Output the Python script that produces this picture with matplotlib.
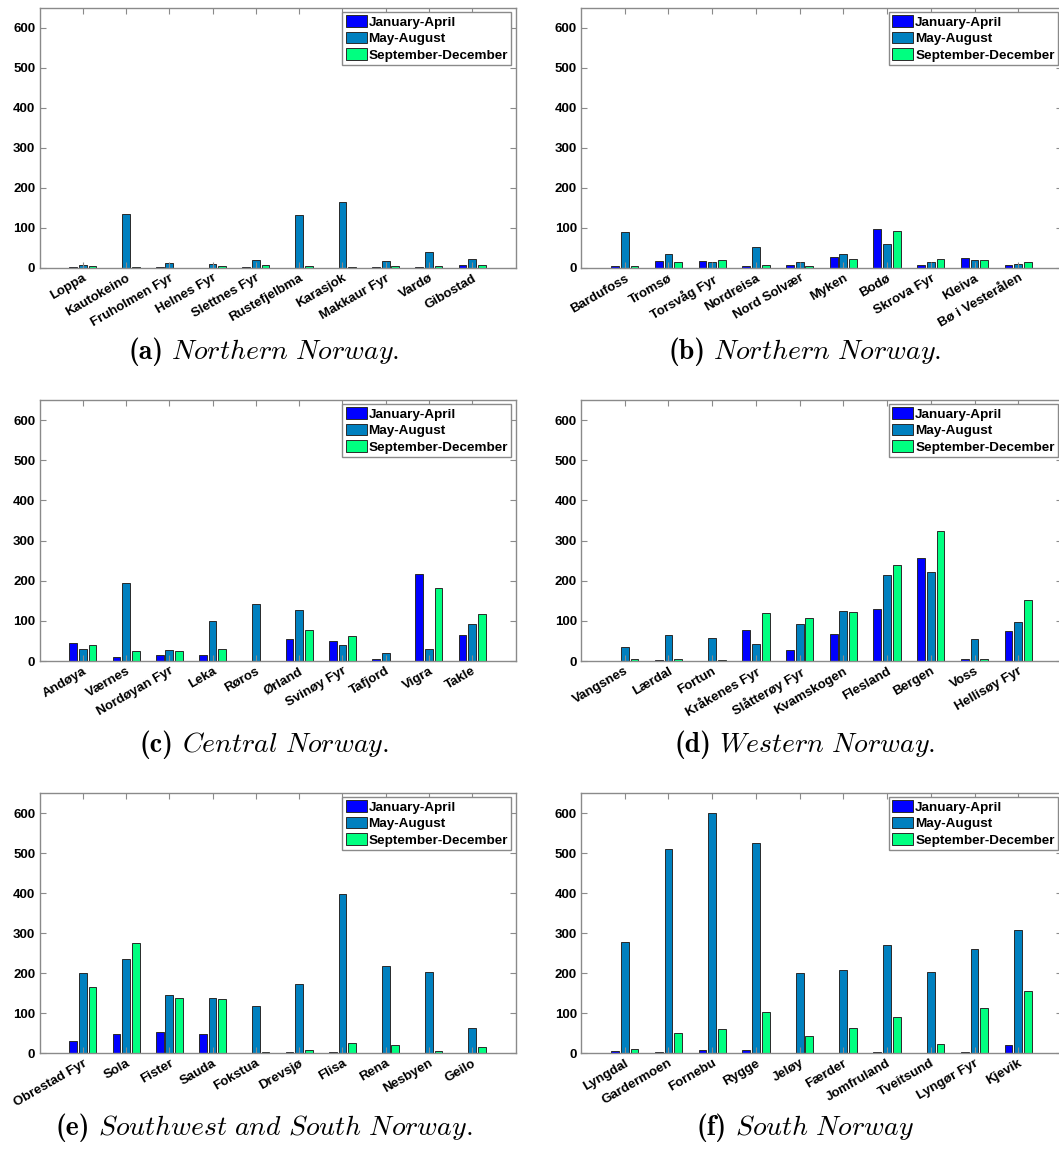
import matplotlib
matplotlib.use("Agg")
import matplotlib.pyplot as plt
import numpy as np

# Seasonal counts per station, three four-month periods per station.
SEASONS = ["January-April", "May-August", "September-December"]
SEASON_COLORS = ["#0000FF", "#0080BF", "#00FF80"]

# (a) Northern Norway
stations_a = ["Loppa", "Kautokeino", "Fruholmen Fyr", "Helnes Fyr", "Slettnes Fyr",
              "Rustefjelbma", "Karasjok", "Makkaur Fyr", "Vardø", "Gibostad"]
jan_a = [2, 0, 2, 0, 2, 0, 0, 3, 2, 8]
may_a = [8, 135, 12.5, 11, 20, 132, 164, 17.5, 39, 22]
sep_a = [4, 3, 1, 4, 7.5, 5, 3, 6, 6, 7]

# (b) Northern Norway
stations_b = ["Bardufoss", "Tromsø", "Torsvåg Fyr", "Nordreisa", "Nord Solvær",
              "Myken", "Bodø", "Skrova Fyr", "Kleiva", "Bø i Vesterålen"]
jan_b = [5, 17, 17, 5, 8, 27.5, 97.5, 8, 24, 8]
may_b = [89, 35, 14, 52, 14, 36, 60, 15, 20, 10]
sep_b = [5, 15, 20, 7, 4, 22.5, 92.5, 22, 19, 15]

# (c) Central Norway
stations_c = ["Andøya", "Værnes", "Nordøyan Fyr", "Leka", "Røros",
              "Ørland", "Svinøy Fyr", "Tafjord", "Vigra", "Takle"]
jan_c = [44, 11, 16, 16, 0, 54, 49, 4, 217, 64]
may_c = [29, 195, 28, 100, 143, 128, 40.5, 19, 29, 91]
sep_c = [41, 24, 25, 31, 0, 76, 63, 0, 183, 116]

# (d) Western Norway
stations_d = ["Vangsnes", "Lærdal", "Fortun", "Kråkenes Fyr", "Slåtterøy Fyr",
              "Kvamskogen", "Flesland", "Bergen", "Voss", "Hellisøy Fyr"]
jan_d = [0, 2, 0, 77, 28, 68, 130, 256, 5, 75]
may_d = [35.5, 64, 58, 43, 93, 125, 213, 221, 54, 96]
sep_d = [6, 5, 3, 120, 107, 123, 239, 325, 5, 152]

# (e) Southwest and South Norway
stations_e = ["Obrestad Fyr", "Sola", "Fister", "Sauda", "Fokstua",
              "Drevsjø", "Flisa", "Rena", "Nesbyen", "Geilo"]
jan_e = [31, 47, 52, 47, 0, 2, 2, 1, 0, 0]
may_e = [199, 235, 144, 137.5, 117.5, 172.5, 397.5, 216.5, 203, 62.5]
sep_e = [165, 276, 137.5, 135, 3, 7, 25, 20, 4, 14]

# (f) South Norway
stations_f = ["Lyngdal", "Gardermoen", "Fornebu", "Rygge", "Jeløy",
              "Færder", "Jomfruland", "Tveitsund", "Lyngør Fyr", "Kjevik"]
jan_f = [5, 2, 8, 8, 0, 0, 3, 0, 2, 20]
may_f = [277.5, 511, 600, 525, 201, 207.5, 271, 203, 260, 307.5]
sep_f = [9, 50, 59, 102.5, 41.5, 62.5, 90, 22.5, 112.5, 155]

captions = [
    ("(a)", "Northern Norway."),
    ("(b)", "Northern Norway."),
    ("(c)", "Central Norway."),
    ("(d)", "Western Norway."),
    ("(e)", "Southwest and South Norway."),
    ("(f)", "South Norway"),
]

panels = [
    (stations_a, jan_a, may_a, sep_a),
    (stations_b, jan_b, may_b, sep_b),
    (stations_c, jan_c, may_c, sep_c),
    (stations_d, jan_d, may_d, sep_d),
    (stations_e, jan_e, may_e, sep_e),
    (stations_f, jan_f, may_f, sep_f),
]

W, H = 1059, 1154
plt.rcParams["font.family"] = ["Liberation Sans", "DejaVu Sans"]
plt.rcParams["font.weight"] = "bold"
plt.rcParams["mathtext.fontset"] = "cm"

fig = plt.figure(figsize=(W / 100, H / 100), dpi=100)

# pixel boxes for the axes (left/right, top/bottom) and caption positions
col_x = [(39.5, 515.5), (581.0, 1062.0)]
row_y = [(8, 268), (400, 661), (793, 1053)]
caption_base = [359, 752, 1135]
caption_x = [264, 805]
CAPTION_SIZE = 20
CAPTION_GAP = 8  # px between the bold tag and the italic title

AXIS_GRAY = "#8a8a8a"
group_off = 2.0 / 9.0
bar_w = group_off * 0.8

caption_parts = []

for idx, (names, jan, may, sep) in enumerate(panels):
    r, c = divmod(idx, 2)
    x0, x1 = col_x[c]
    top, bottom = row_y[r]
    ax = fig.add_axes([x0 / W, 1 - bottom / H, (x1 - x0) / W, (bottom - top) / H])

    x = np.arange(1, len(names) + 1)
    for k, (vals, color, label) in enumerate(zip((jan, may, sep), SEASON_COLORS, SEASONS)):
        ax.bar(x + (k - 1) * group_off, vals, width=bar_w, color=color,
               edgecolor="#2a2a2a", linewidth=0.7, label=label)

    ax.set_xlim(0, 11)
    ax.set_ylim(0, 650)
    ax.set_yticks(np.arange(0, 601, 100))
    ax.set_xticks(x)
    ax.set_xticklabels(names, rotation=30, ha="right", va="top",
                       rotation_mode="anchor", fontsize=9.5, fontweight="bold")
    for lab in ax.get_yticklabels():
        lab.set_fontsize(9.5)
        lab.set_fontweight("bold")
    ax.tick_params(direction="in", length=4, width=0.8, color=AXIS_GRAY,
                   top=True, right=True, pad=3)
    for sp in ax.spines.values():
        sp.set_color(AXIS_GRAY)
        sp.set_linewidth(1.0)

    leg = ax.legend(loc="upper right", bbox_to_anchor=(1.0, 1.0),
                    prop={"family": "Liberation Sans", "weight": "bold", "size": 9.7},
                    fancybox=False, framealpha=1.0, edgecolor=AXIS_GRAY,
                    borderaxespad=0.3, borderpad=0.25, labelspacing=0.22,
                    handlelength=1.55, handleheight=0.95, handletextpad=0.15)
    leg.get_frame().set_linewidth(1.0)

    # caption: bold tag followed by an italic title
    tag, region = captions[idx]
    yb = 1 - caption_base[r] / H
    tag_txt = fig.text(0, yb, tag, family="cmb10", fontsize=CAPTION_SIZE,
                       fontweight="normal", ha="left", va="baseline")
    region_tex = region.replace(" ", r"\ ")
    reg_txt = fig.text(0, yb, r"$\mathit{" + region_tex + "}$", fontsize=CAPTION_SIZE,
                       ha="left", va="baseline")
    caption_parts.append((tag_txt, reg_txt, caption_x[c]))

# centre each caption as one line
fig.canvas.draw()
renderer = fig.canvas.get_renderer()
for tag_txt, reg_txt, cx in caption_parts:
    w_tag = tag_txt.get_window_extent(renderer).width
    w_reg = reg_txt.get_window_extent(renderer).width
    start = cx - (w_tag + CAPTION_GAP + w_reg) / 2
    tag_txt.set_x(start / W)
    reg_txt.set_x((start + w_tag + CAPTION_GAP) / W)

fig.savefig("out.png", dpi=100)
